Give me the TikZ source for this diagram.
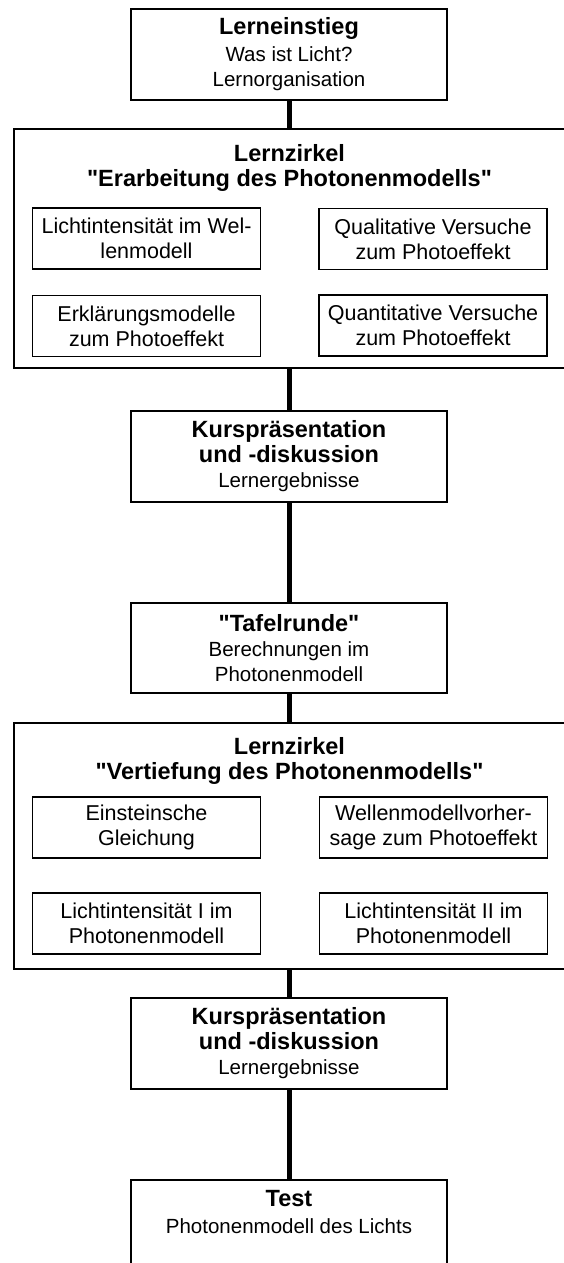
\documentclass[tikz,border=0pt]{standalone}
\usepackage{fontspec}
\setmainfont{Liberation Sans}
\usetikzlibrary{positioning}
\newcommand{\kopf}[1]{{\fontsize{23.5}{27}\selectfont\bfseries #1}}

\begin{document}
\begin{tikzpicture}[x=1pt, y=-1pt,
    box/.style={draw, line width=1.6pt, align=center, inner sep=0pt, minimum width=316pt, font=\fontsize{20.5}{25}\selectfont},
    big/.style={draw, line width=1.6pt, inner sep=0pt, minimum width=551pt},
    small/.style={draw, line width=1.4pt, align=center, inner sep=0pt, minimum width=228pt, minimum height=61pt, font=\fontsize{21.5}{25}\selectfont},
    head/.style={align=center, inner sep=0pt, font=\fontsize{23.5}{25}\selectfont\bfseries},
    link/.style={line width=5pt}]
	\fill[white] (0,0) rectangle (564,1263);
	\useasboundingbox (0,0) rectangle (564,1263);
	\clip (0,0) rectangle (564,1263);

	\node[box, minimum height=91pt] (ein) at (289,54.5) {\kopf{Lerneinstieg}\\[2pt]Was ist Licht?\\Lernorganisation};

	% Lernzirkel 1
	\node[big, minimum height=239pt] (zk1) at (289.5,248.5) {};
	\node[head, below=16pt of zk1.north] (zk1t) {Lernzirkel\\\textquotedbl Erarbeitung des Photonenmodells\textquotedbl};
	\node[small] (a1) at (146.5,238.5) {Lichtintensität im Wel-\\lenmodell};
	\node[small] (a2) at (433,239) {Qualitative Versuche\\zum Photoeffekt};
	\node[small] (a3) at (146.5,326) {Erklärungsmodelle\\zum Photoeffekt};
	\node[small] (a4) at (433,325.5) {Quantitative Versuche\\zum Photoeffekt};

	\node[box, minimum height=91pt] (kurs1) at (289,456.5) {\kopf{Kurspräsentation}\\\kopf{und -diskussion}\\Lernergebnisse};
	\node[box, minimum height=90pt] (tafel) at (289,648) {\kopf{\textquotedbl Tafelrunde\textquotedbl}\\Berechnungen im\\Photonenmodell};

	% Lernzirkel 2
	\node[big, minimum height=246pt] (zk2) at (289.5,846) {};
	\node[head, below=15pt of zk2.north] (zk2t) {Lernzirkel\\\textquotedbl Vertiefung des Photonenmodells\textquotedbl};
	\node[small] (b1) at (146.5,827.5) {Einsteinsche\\Gleichung};
	\node[small] (b2) at (433.5,827.5) {Wellenmodellvorher-\\sage zum Photoeffekt};
	\node[small] (b3) at (146.5,923.5) {Lichtintensität I im\\Photonenmodell};
	\node[small] (b4) at (433.5,923.5) {Lichtintensität II im\\Photonenmodell};

	\node[box, minimum height=91pt] (kurs2) at (289,1043.5) {\kopf{Kurspräsentation}\\\kopf{und -diskussion}\\Lernergebnisse};
	\node[box, minimum height=120pt, anchor=north] (test) at (289,1179) {};
	\node[head, font=\fontsize{20.5}{27}\selectfont, below=11pt of test.north] (testt) {\kopf{Test}\\Photonenmodell des Lichts};

	\draw[link] (ein.south) -- (ein.south |- zk1.north);
	\draw[link] (kurs1.north |- zk1.south) -- (kurs1.north);
	\draw[link] (kurs1.south) -- (tafel.north);
	\draw[link] (tafel.south) -- (tafel.south |- zk2.north);
	\draw[link] (kurs2.north |- zk2.south) -- (kurs2.north);
	\draw[link] (kurs2.south) -- (test.north);
\end{tikzpicture}
\end{document}
